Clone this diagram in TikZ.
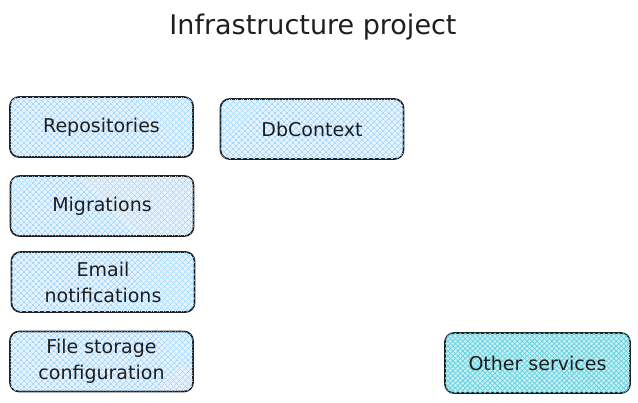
\documentclass[tikz,border=0pt]{standalone}
\usepackage{fontspec}
\setmainfont{DejaVu Sans}
\usetikzlibrary{patterns.meta}
\definecolor{ink}{HTML}{1E1E1E}
\definecolor{bluefill}{HTML}{E6F3FF}
\definecolor{bluehatch}{HTML}{A5D8FF}
\definecolor{cyanfill}{HTML}{C8F1F5}
\definecolor{cyanhatch}{HTML}{66D2E0}
\tikzset{
  box/.style={draw=ink, line width=1.7pt, rounded corners=9pt, minimum width=183pt, minimum height=60pt,
    inner sep=0pt, align=center, font=\fontsize{19}{26}\selectfont, text=ink},
  bluebox/.style={box, fill=bluefill,
    postaction={pattern={Lines[angle=45,distance=4pt,line width=0.7pt]}, pattern color=bluehatch},
    postaction={pattern={Lines[angle=-45,distance=4pt,line width=0.7pt]}, pattern color=bluehatch}},
  cyanbox/.style={box, fill=cyanfill,
    postaction={pattern={Lines[angle=45,distance=3.5pt,line width=0.8pt]}, pattern color=cyanhatch},
    postaction={pattern={Lines[angle=-45,distance=3.5pt,line width=0.8pt]}, pattern color=cyanhatch}},
  titletext/.style={font=\fontsize{27}{32}\selectfont, text=ink}
}
\begin{document}
\begin{tikzpicture}[x=1pt,y=-1pt]
\useasboundingbox (0,0) rectangle (638,403);
\node[titletext] (title) at (313,27) {Infrastructure project};
\node[bluebox] (repo) at (101.5,127) {Repositories};
\node[bluebox] (db) at (312,129) {DbContext};
\node[bluebox] (mig) at (102,206) {Migrations};
\node[bluebox] (email) at (103,282) {Email\\notifications};
\node[bluebox] (file) at (101.5,361.5) {File storage\\configuration};
\node[cyanbox, minimum width=185pt] (other) at (537.5,363) {Other services};
\end{tikzpicture}
\end{document}
